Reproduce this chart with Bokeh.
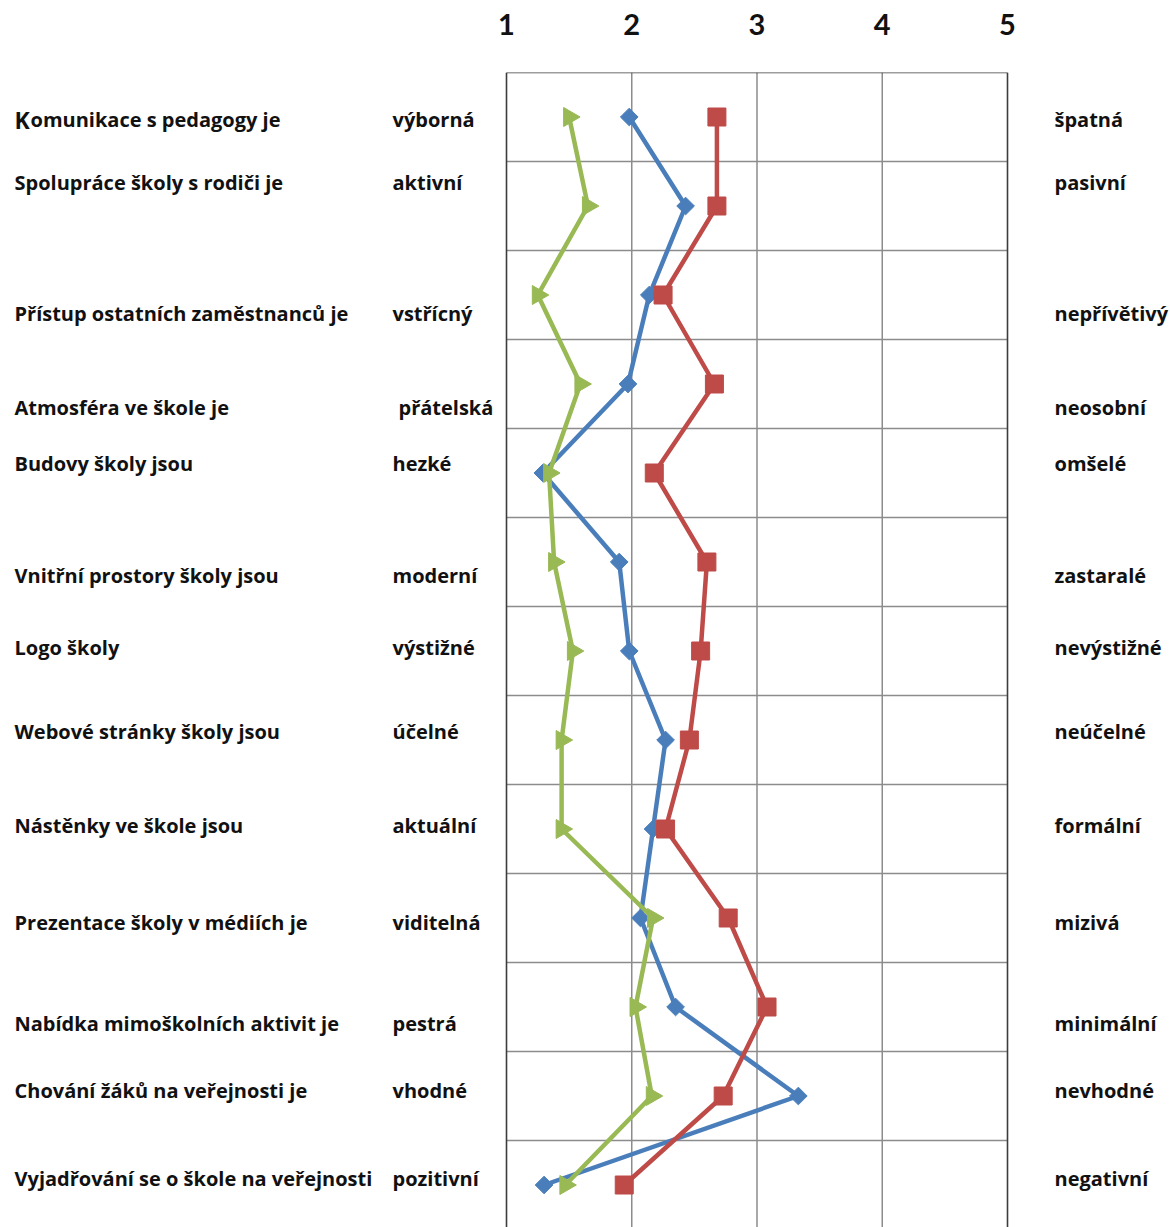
from bokeh.plotting import figure
from bokeh.models import Range1d, LinearAxis, FixedTicker, ColumnDataSource
from bokeh.core.properties import value
from bokeh.embed import file_html
from bokeh.resources import INLINE
import math

# ---- data ----
rows = list(range(1, 14))
left_labels = [
    "Komunikace s pedagogy je",
    "Spolupráce školy s rodiči je",
    "Přístup ostatních zaměstnanců je",
    "Atmosféra ve škole je",
    "Budovy školy jsou",
    "Vnitřní prostory školy jsou",
    "Logo školy",
    "Webové stránky školy jsou",
    "Nástěnky ve škole jsou",
    "Prezentace školy v médiích je",
    "Nabídka mimoškolních aktivit je",
    "Chování žáků na veřejnosti je",
    "Vyjadřování se o škole na veřejnosti",
]
pos_labels = ["výborná", "aktivní", "vstřícný", "přátelská", "hezké", "moderní",
              "výstižné", "účelné", "aktuální", "viditelná", "pestrá", "vhodné", "pozitivní"]
neg_labels = ["špatná", "pasivní", "nepřívětivý", "neosobní", "omšelé", "zastaralé",
              "nevýstižné", "neúčelné", "formální", "mizivá", "minimální", "nevhodné", "negativní"]
blue_vals = [1.98, 2.43, 2.14, 1.97, 1.29, 1.90, 1.98, 2.27, 2.17, 2.07, 2.35, 3.33, 1.30]
red_vals = [2.68, 2.68, 2.25, 2.66, 2.18, 2.60, 2.55, 2.46, 2.27, 2.77, 3.08, 2.73, 1.94]
green_vals = [1.50, 1.65, 1.25, 1.59, 1.34, 1.38, 1.53, 1.44, 1.44, 2.17, 2.03, 2.16, 1.47]
x_ticks = [1, 2, 3, 4, 5]

# ---- layout (pixel geometry of the chart box) ----
W, H = 1170, 1227
FL, FR, FT = 506, 1007, 72
ROW_PX = 89.0
UNIT = (FR - FL) / 4.0

def sx(px):
    return 1 + (px - FL) / UNIT

def sy(py):
    return 0.5 + (py - FT) / ROW_PX

y_bottom = sy(H)

p = figure(width=W, height=H, output_backend="svg", toolbar_location=None,
           x_axis_location=None, y_axis_location=None,
           x_range=Range1d(sx(0), sx(W)), y_range=Range1d(y_bottom, 0.5),
           min_border_left=0, min_border_right=0, min_border_top=FT,
           min_border_bottom=0)
p.center = []
p.outline_line_color = None
p.background_fill_color = "white"
p.border_fill_color = "white"

ax = LinearAxis(ticker=FixedTicker(ticks=x_ticks))
ax.axis_line_color = None
ax.major_tick_line_color = None
ax.minor_tick_line_color = None
ax.major_tick_out = 0
ax.major_tick_in = 0
ax.major_label_standoff = 38
ax.major_label_text_font = "Lato"
ax.major_label_text_font_style = "bold"
ax.major_label_text_font_size = "29px"
ax.major_label_text_color = "#111111"
p.add_layout(ax, "above")

# grid lines inside the chart box
inner_x = x_ticks[1:-1]
p.segment(x0=inner_x, x1=inner_x, y0=[0.5] * 3, y1=[y_bottom] * 3,
          line_color="#8c8c8c", line_width=1.5)
hy = [r + 0.5 for r in rows]
p.segment(x0=[1] * len(hy), x1=[5] * len(hy), y0=hy, y1=hy,
          line_color="#8c8c8c", line_width=1.5)
# box edges
p.segment(x0=[1, 5, 1], x1=[1, 5, 5], y0=[0.5, 0.5, 0.5], y1=[y_bottom, y_bottom, 0.5],
          line_color="#3c3c3c", line_width=1.6)

src = ColumnDataSource(dict(y=rows, blue=blue_vals, red=red_vals, green=green_vals))

BLUE, RED, GREEN = "#4a7ebb", "#be4b48", "#98b954"
p.line("blue", "y", source=src, line_color=BLUE, line_width=4.5)
p.scatter("blue", "y", source=src, marker="square", angle=math.pi / 4, size=12.5,
          fill_color=BLUE, line_color=BLUE)
p.line("red", "y", source=src, line_color=RED, line_width=4.5)
p.scatter("red", "y", source=src, marker="square", size=18,
          fill_color=RED, line_color=RED)
p.line("green", "y", source=src, line_color=GREEN, line_width=4.5)
p.scatter("green", "y", source=src, marker="triangle", angle=-math.pi / 2, size=19,
          fill_color=GREEN, line_color=GREEN)

# text labels (pixel centres of text lines)
label_py = [120, 183, 314, 408, 464, 576, 648, 732, 826, 923, 1024, 1091, 1179]
mid_px = [392, 392, 392, 398, 392, 392, 392, 392, 392, 392, 392, 392, 392]
base_y = [sy(py - 1) for py in label_py]

FONT = "Open Sans"

def add_texts(xs, ys, texts, size="20px"):
    p.text(x=xs, y=ys, text=texts, text_font=value(FONT), text_font_style="bold",
           text_font_size=size, text_color="#111111", text_baseline="alphabetic",
           text_align="left")

left_x = [sx(14)] * 13
left_txt = list(left_labels)
left_txt[0] = left_labels[0][1:]
left_x[0] = sx(30)
add_texts(left_x, base_y, left_txt)
add_texts([sx(14)], [base_y[0]], [left_labels[0][0]], size="23px")
add_texts([sx(px) for px in mid_px], base_y, pos_labels)
add_texts([sx(1054)] * 13, base_y, neg_labels)

open("out.html", "w").write(file_html(p, INLINE))
